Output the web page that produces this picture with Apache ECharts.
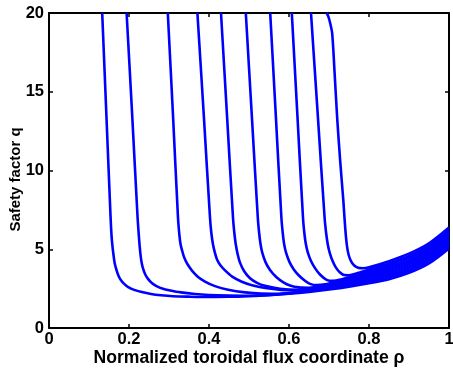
<!DOCTYPE html>
<html>
<head>
<meta charset="utf-8">
<script src="https://cdn.jsdelivr.net/npm/echarts@6/dist/echarts.min.js"></script>
<style>html,body{margin:0;padding:0;background:#fff}#c{width:453px;height:368px}</style>
</head>
<body>
<div id="c"></div>
<script>
const xTicks = [0, 0.2, 0.4, 0.6, 0.8, 1];
const yTicks = [0, 5, 10, 15, 20];
const xTitle = 'Normalized toroidal flux coordinate \u03c1';
const yTitle = 'Safety factor q';

const curve1 = [[0.133,20],[0.1435,13.5],[0.154,7],[0.1565,5.8],[0.159,5.1],[0.161,4.7],[0.164,4.15],[0.169,3.66],[0.174,3.3],[0.18,3.03],[0.188,2.8],[0.198,2.6],[0.213,2.42],[0.232,2.28],[0.255,2.16],[0.28,2.08],[0.31,2.02],[0.35,1.99],[0.4,1.97],[0.45,1.98],[0.5,2.02],[0.55,2.08],[0.6,2.17],[0.65,2.29],[0.7,2.44],[0.75,2.62],[0.8,2.84],[0.85,3.1],[0.9,3.5],[0.95,4.1],[1.0,5.05]];
const curve2 = [[0.194,20],[0.208,13.5],[0.2215,7],[0.2245,5.9],[0.227,5.1],[0.2295,4.5],[0.232,4.1],[0.236,3.7],[0.241,3.38],[0.248,3.1],[0.257,2.86],[0.27,2.64],[0.285,2.49],[0.3,2.4],[0.33,2.26],[0.365,2.16],[0.4,2.1],[0.45,2.06],[0.5,2.05],[0.55,2.1],[0.6,2.2],[0.65,2.33],[0.7,2.5],[0.75,2.7],[0.8,2.93],[0.85,3.22],[0.9,3.63],[0.95,4.24],[1.0,5.19]];
const curve3 = [[0.297,20],[0.310,13.5],[0.3225,7],[0.326,5.9],[0.329,5.3],[0.333,4.9],[0.337,4.55],[0.343,4.2],[0.35,3.9],[0.357,3.66],[0.372,3.26],[0.39,2.95],[0.415,2.66],[0.448,2.43],[0.49,2.26],[0.53,2.18],[0.57,2.17],[0.6,2.22],[0.65,2.37],[0.7,2.57],[0.75,2.79],[0.8,3.05],[0.85,3.35],[0.9,3.77],[0.95,4.38],[1.0,5.34]];
const curve4 = [[0.371,20],[0.387,13.5],[0.4025,7],[0.406,6.0],[0.41,5.3],[0.415,4.75],[0.42,4.35],[0.428,4.0],[0.44,3.66],[0.458,3.26],[0.482,2.94],[0.51,2.7],[0.545,2.52],[0.58,2.42],[0.61,2.39],[0.64,2.42],[0.67,2.51],[0.7,2.64],[0.75,2.89],[0.8,3.16],[0.85,3.48],[0.9,3.9],[0.95,4.52],[1.0,5.48]];
const curve5 = [[0.430,20],[0.445,13.5],[0.46,7],[0.4635,6.0],[0.467,5.3],[0.4715,4.7],[0.4775,4.15],[0.488,3.6],[0.5025,3.16],[0.52,2.87],[0.54,2.68],[0.5775,2.49],[0.62,2.43],[0.66,2.5],[0.7,2.71],[0.75,2.99],[0.8,3.27],[0.85,3.61],[0.9,4.04],[0.95,4.66],[1.0,5.63]];
const curve6 = [[0.492,20],[0.507,13.5],[0.522,7],[0.5255,6.0],[0.529,5.3],[0.533,4.8],[0.541,4.2],[0.5525,3.68],[0.568,3.24],[0.586,2.9],[0.6025,2.7],[0.625,2.58],[0.65,2.56],[0.68,2.65],[0.7,2.77],[0.75,3.08],[0.8,3.39],[0.85,3.73],[0.9,4.17],[0.95,4.8],[1.0,5.78]];
const curve7 = [[0.553,20],[0.567,13.5],[0.581,7],[0.5845,6.0],[0.588,5.3],[0.593,4.75],[0.601,4.2],[0.612,3.72],[0.626,3.3],[0.64,3.0],[0.6525,2.8],[0.67,2.72],[0.69,2.77],[0.72,2.95],[0.75,3.17],[0.8,3.5],[0.85,3.86],[0.9,4.31],[0.95,4.95],[1.0,5.93]];
const curve8 = [[0.607,20],[0.621,13.5],[0.635,7],[0.6385,6.0],[0.642,5.35],[0.647,4.8],[0.655,4.25],[0.665,3.8],[0.678,3.38],[0.694,3.06],[0.71,2.99],[0.73,3.08],[0.75,3.24],[0.8,3.61],[0.85,3.98],[0.9,4.45],[0.95,5.09],[1.0,6.08]];
const curve9 = [[0.655,20],[0.672,13.5],[0.689,7],[0.693,6.0],[0.697,5.3],[0.702,4.75],[0.709,4.25],[0.717,3.85],[0.7275,3.52],[0.738,3.36],[0.75,3.35],[0.77,3.47],[0.8,3.72],[0.85,4.1],[0.9,4.58],[0.95,5.24],[1.0,6.23]];
const curve10 = [[0.694,20],[0.698,19.8],[0.703,19.35],[0.708,18.7],[0.714,16.2],[0.7208,13.2],[0.728,10.6],[0.7358,8.1],[0.739,6.9],[0.742,5.9],[0.745,5.2],[0.749,4.65],[0.755,4.25],[0.763,3.97],[0.773,3.82],[0.785,3.79],[0.8,3.85],[0.85,4.24],[0.9,4.72],[0.95,5.38],[1.0,6.38]];

const curves = [curve1, curve2, curve3, curve4, curve5, curve6, curve7, curve8, curve9, curve10];

const FONT = '"Liberation Sans", Arial, Helvetica, sans-serif';
const axisLine = { show: true, onZero: false, lineStyle: { color: '#000', width: 2 } };
const tick = { show: true, inside: true, length: 4, lineStyle: { color: '#000', width: 1.5 } };
const lbl = { color: '#000', fontFamily: FONT, fontWeight: 'bold', fontSize: 16.5 };

const chart = echarts.init(document.getElementById('c'), null, { renderer: 'canvas' });
chart.setOption({
  animation: false,
  backgroundColor: '#fff',
  grid: { left: 49, right: 4, top: 13, bottom: 40, containLabel: false, outerBoundsMode: 'none' },
  xAxis: [
    { type: 'value', min: xTicks[0], max: xTicks[xTicks.length - 1], interval: 0.2, position: 'bottom',
      axisLine, axisTick: tick, splitLine: { show: false },
      axisLabel: Object.assign({ margin: 3, formatter: v => String(+v.toFixed(1)) }, lbl),
      name: xTitle, nameLocation: 'middle', nameGap: 21, nameMoveOverlap: false,
      nameTextStyle: Object.assign({}, lbl, { fontSize: 17.6 }) },
    { type: 'value', min: xTicks[0], max: xTicks[xTicks.length - 1], interval: 0.2, position: 'top',
      axisLine, axisTick: tick, splitLine: { show: false }, axisLabel: { show: false } }
  ],
  yAxis: [
    { type: 'value', min: yTicks[0], max: yTicks[yTicks.length - 1], interval: 5, position: 'left',
      axisLine, axisTick: tick, splitLine: { show: false },
      axisLabel: Object.assign({ margin: 5 }, lbl),
      name: yTitle, nameLocation: 'middle', nameGap: 26, nameMoveOverlap: false,
      nameTextStyle: Object.assign({}, lbl, { fontSize: 15, padding: [0, 18, 0, 0] }) },
    { type: 'value', min: yTicks[0], max: yTicks[yTicks.length - 1], interval: 5, position: 'right',
      axisLine, axisTick: tick, splitLine: { show: false }, axisLabel: { show: false } }
  ],
  series: curves.map((c, i) => ({
    type: 'line', name: 'q' + (i + 1), data: c, showSymbol: false, symbol: 'none',
    smooth: 0.3, clip: true,
    lineStyle: { color: '#0000ff', width: 2.6 }
  }))
});
</script>
</body>
</html>
